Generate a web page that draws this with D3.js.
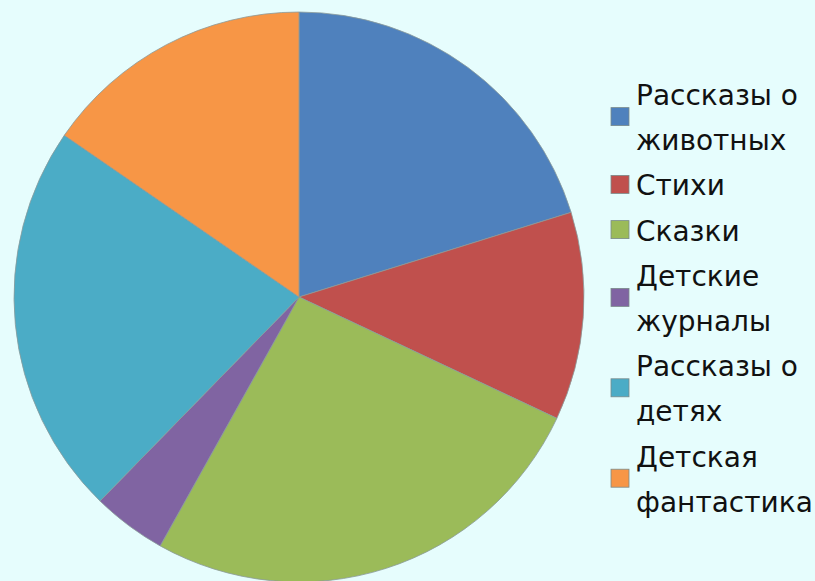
<!DOCTYPE html>
<html><head><meta charset="utf-8">
<script src="https://cdn.jsdelivr.net/npm/d3@7"></script>
<style>
html,body{margin:0;padding:0;background:#e6fdfd;}
svg{display:block;}
</style></head>
<body>
<svg id="chart" width="815" height="581"></svg>
<script>
const categories = ["Рассказы о\nживотных", "Стихи", "Сказки", "Детские\nжурналы", "Рассказы о\nдетях", "Детская\nфантастика"];
const values = [20.2, 11.8, 26.1, 4.2, 22.3, 15.4];
const colors = ["#4f81bd", "#c0504d", "#9bbb59", "#8064a2", "#4bacc6", "#f79646"];

const svg = d3.select("#chart");
const W = 815, H = 581;
svg.append("rect").attr("width", W).attr("height", H).attr("fill", "#e6fdfd");

const cx = 299, cy = 297, R = 285;
const pie = d3.pie().sort(null).value(d => d)(values);
const arc = d3.arc().innerRadius(0).outerRadius(R);
const g = svg.append("g").attr("transform", `translate(${cx},${cy})`);
g.selectAll("path").data(pie).join("path")
  .attr("d", arc)
  .attr("fill", (d, i) => colors[i])
  .attr("stroke", "#8a9a9a")
  .attr("stroke-width", 0.8);

// legend
const lineStep = 45.2, firstBase = 105, textX = 636, swX = 611, sw = 18;
const leg = svg.append("g").attr("font-family", "'DejaVu Sans', sans-serif").attr("font-size", 28).attr("fill", "#111");
let lineIdx = 0;
categories.forEach((c, i) => {
  const lines = c.split("\n");
  const bases = lines.map((l, k) => firstBase + (lineIdx + k) * lineStep);
  lineIdx += lines.length;
  const t = leg.append("text").attr("x", textX);
  lines.forEach((l, k) => t.append("tspan").attr("x", textX).attr("y", bases[k]).text(l));
  const mid = d3.mean(bases) - 11;
  leg.append("rect").attr("x", swX).attr("y", mid - sw / 2).attr("width", sw).attr("height", sw)
    .attr("fill", colors[i]).attr("stroke", "#7a8a8a").attr("stroke-width", 0.8);
});
</script>
</body></html>
